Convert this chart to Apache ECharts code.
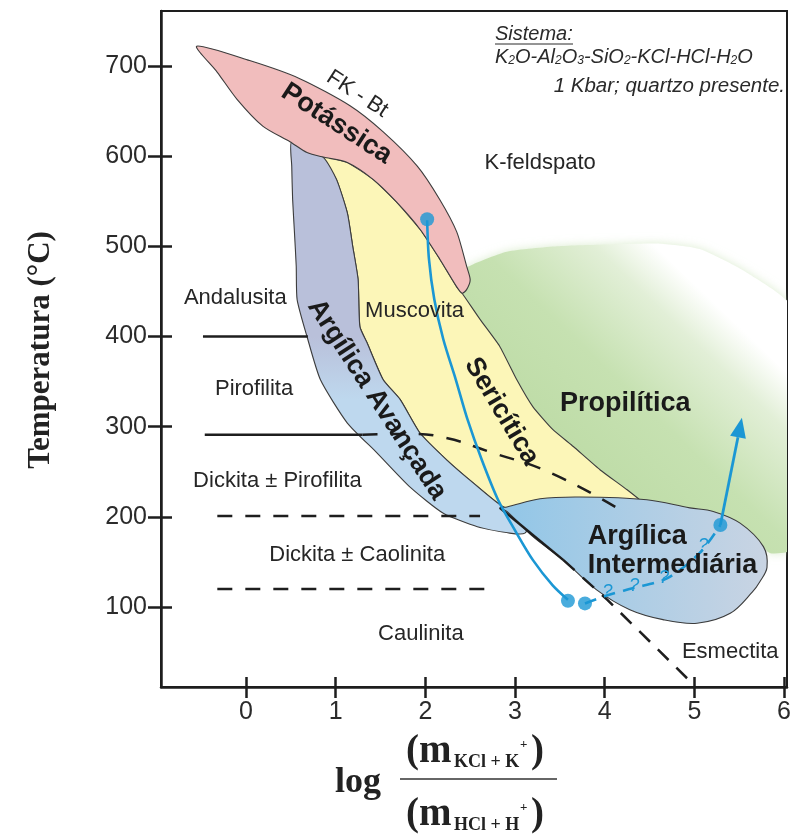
<!DOCTYPE html>
<html><head><meta charset="utf-8">
<script src="https://cdn.jsdelivr.net/npm/echarts@6/dist/echarts.min.js"></script>
<style>html,body{margin:0;padding:0;background:#fff}#c{width:794px;height:840px}</style>
</head><body><div id="c"></div>
<script>
// ---- axis ticks ----
const xTickValues = [0, 1, 2, 3, 4, 5, 6];
const yTickValues = [100, 200, 300, 400, 500, 600, 700];

// ---- alteration fields (log ratio, °C) ----
const propilitica = [[2.35,470],[2.53,480],[2.91,494],[3.47,500],[4.03,502],[4.62,503],[5.06,497],[5.60,470],[6.10,430],[6.10,165],[5.84,160],[5.59,186],[4.43,215],[4.25,230],[3.95,252],[3.65,278],[3.42,297],[3.20,322],[3.02,352],[2.83,389],[2.61,419],[2.41,448]];
const sericitica = [[0.86,599],[1.13,593],[1.42,574],[1.68,549],[1.94,519],[2.16,486],[2.35,455],[2.41,448],[2.61,419],[2.83,389],[3.02,352],[3.20,322],[3.42,297],[3.65,278],[3.95,252],[4.25,230],[4.43,215],[4.45,205],[3.20,205],[2.87,211],[2.53,238],[2.24,263],[1.94,293],[1.72,330],[1.53,352],[1.35,393],[1.27,411],[1.25,463],[1.19,500],[1.13,537],[1.01,574]];
const argilicaAvancada = [[0.51,616],[0.86,599],[1.01,574],[1.13,537],[1.19,500],[1.25,463],[1.27,411],[1.35,393],[1.53,352],[1.72,330],[1.94,293],[2.24,263],[2.53,238],[2.87,211],[3.20,200],[3.11,182],[2.94,182],[2.58,189],[2.20,204],[1.83,233],[1.46,271],[1.13,304],[0.83,352],[0.68,400],[0.57,441],[0.56,478],[0.54,516],[0.52,552],[0.51,589]];
const potassica = [[-0.55,722],[0.04,706],[0.60,686],[1.16,656],[1.53,627],[1.91,589],[2.16,552],[2.35,516],[2.46,478],[2.50,463],[2.46,452],[2.41,448],[2.35,455],[2.16,486],[1.94,519],[1.68,549],[1.42,574],[1.13,593],[0.86,599],[0.68,604],[0.49,616],[0.19,633],[-0.10,663],[-0.32,693]];
const argilicaIntermediaria = [[2.91,211],[3.28,220],[3.72,222],[4.47,219],[4.95,210],[5.21,206],[5.51,193],[5.77,167],[5.81,144],[5.73,128],[5.65,117],[5.40,93],[5.03,82],[4.65,86],[4.28,97],[3.91,119],[3.54,152],[3.20,178],[2.91,206],[2.83,210]];

// ---- mineral boundaries ----
const line400 = [[-0.48,400],[0.69,400]];
const line290 = [[-0.46,291],[1.30,291]];
const dash290 = [[1.30,291],[1.86,292],[2.16,289],[2.75,271],[3.39,249],[4.17,208]];
const dash200 = [[-0.32,201],[2.61,201]];
const dash120 = [[-0.32,120],[2.72,120]];
const diagSolid = [[2.83,210],[3.54,152]];
const diagDash = [[3.54,152],[4.03,108],[4.98,15]];

// ---- evolution path ----
const pathMain = [[2.02,529],[2.04,486],[2.10,441],[2.20,397],[2.34,352],[2.47,308],[2.63,263],[2.81,219],[3.00,185],[3.20,152],[3.42,124],[3.59,108]];
const pathDots = [[2.02,530],[3.59,107],[3.78,104],[5.29,191]];
const pathDashed = [[3.78,104],[4.03,113],[4.32,121],[4.70,132],[5.06,160],[5.29,191]];
const pathArrow = [[5.29,191],[5.53,310]];
const questionMarks = [[4.03,117],[4.33,123],[4.66,132],[5.10,168]];

// ---- labels (anchor in data units) ----
const regionLabels = [
  {t:'FK - Bt', x:1.24, y:669, r:-33, k:'n'},
  {t:'Potássica', x:1.01, y:636, r:-33, k:'b'},
  {t:'K-feldspato', x:3.28, y:592, r:0, k:'n'},
  {t:'Andalusita', x:-0.12, y:443, r:0, k:'n'},
  {t:'Muscovita', x:1.88, y:428, r:0, k:'n'},
  {t:'Argílica Avançada', x:1.46, y:330, r:-57, k:'b'},
  {t:'Sericítica', x:2.85, y:317, r:-59, k:'b'},
  {t:'Pirofilita', x:0.09, y:342, r:0, k:'n'},
  {t:'Propilítica', x:4.23, y:326, r:0, k:'b'},
  {t:'Dickita ± Pirofilita', x:0.35, y:240, r:0, k:'n'},
  {t:'Dickita ± Caolinita', x:1.24, y:158, r:0, k:'n'},
  {t:'Argílica', x:3.81, y:178, r:0, k:'bl'},
  {t:'Intermediária', x:3.81, y:146, r:0, k:'bl'},
  {t:'Caulinita', x:1.95, y:70, r:0, k:'n'},
  {t:'Esmectita', x:5.40, y:50, r:0, k:'n'}
];

const X_MIN = -0.948, X_MAX = 6.033, Y_MIN = 11.3, Y_MAX = 761;
const SANS = '"Liberation Sans", Arial, sans-serif';
const SERIF = '"Liberation Serif", "Times New Roman", serif';
const BLUE = '#1b97d4';
const INK = '#1e1e1e';

function polySeries(pts, fillFn, stroke, smooth, extra) {
  return {
    type: 'custom', coordinateSystem: 'cartesian2d', silent: true, animation: false, clip: true,
    data: pts, encode: {x: 0, y: 1},
    renderItem: function (params, api) {
      if (params.dataIndex !== 0) return;
      const points = pts.map(p => api.coord(p));
      const style = Object.assign({fill: fillFn(api), stroke: stroke, lineWidth: stroke === 'none' ? 0 : 1.1}, extra || {});
      return {type: 'polygon', shape: {points: points, smooth: smooth}, style: style};
    }
  };
}
function lineSeries(pts, color, width, type, smooth) {
  return {type: 'line', data: pts, showSymbol: false, symbol: 'none', silent: true, animation: false,
    smooth: smooth || false, lineStyle: {color: color, width: width, type: type}, z: 3};
}

const series = [
  polySeries(propilitica, api => {
    const a = api.coord([3.2, 200]), b = api.coord([5.9, 480]);
    return new echarts.graphic.LinearGradient(a[0], a[1], b[0], b[1], [
      {offset: 0, color: '#b8d89f'}, {offset: 0.45, color: '#c6e1b1'},
      {offset: 0.68, color: '#e2efd7'}, {offset: 0.8, color: '#ffffff'}, {offset: 1, color: '#ffffff'}], true);
  }, 'none', 0.2, {shadowBlur: 10, shadowColor: 'rgba(196,224,176,0.6)'}),
  polySeries(sericitica, () => '#fcf6b8', '#3c3c3c', 0.15),
  polySeries(argilicaAvancada, api => {
    const a = api.coord([1, 400]), b = api.coord([1, 330]);
    return new echarts.graphic.LinearGradient(a[0], a[1], b[0], b[1], [
      {offset: 0, color: '#b9c0da'}, {offset: 1, color: '#bed8ee'}], true);
  }, '#3c3c3c', 0.2),
  polySeries(potassica, () => '#f1bdbd', '#3c3c3c', 0.25),
  polySeries(argilicaIntermediaria, api => {
    const a = api.coord([3.0, 150]), b = api.coord([5.8, 150]);
    return new echarts.graphic.LinearGradient(a[0], a[1], b[0], b[1], [
      {offset: 0, color: '#94c7e7'}, {offset: 1, color: '#c9d4e3'}], true);
  }, '#3c3c3c', 0.35),
  lineSeries(line400, INK, 2.5, 'solid'),
  lineSeries(line290, INK, 2.5, 'solid'),
  lineSeries(dash290, INK, 2.5, [15, 13], true),
  lineSeries(dash200, INK, 2.5, [15, 13]),
  lineSeries(dash120, INK, 2.5, [15, 13]),
  lineSeries(diagSolid, INK, 2.5, 'solid'),
  lineSeries(diagDash, INK, 2.5, [15, 11]),
  {
    type: 'custom', coordinateSystem: 'cartesian2d', silent: true, animation: false, z: 4,
    data: regionLabels.map(l => [l.x, l.y]), encode: {x: 0, y: 1},
    renderItem: function (params, api) {
      const l = regionLabels[params.dataIndex];
      const p = api.coord([l.x, l.y]);
      const bold = l.k !== 'n';
      return {type: 'text', x: p[0], y: p[1], rotation: l.r * Math.PI / 180,
        style: {text: l.t, fill: bold ? '#1a1a1a' : '#262626',
          font: (bold ? 'bold 27px ' : '22px ') + SANS,
          align: l.k === 'bl' ? 'left' : 'center', verticalAlign: 'middle'}};
    }
  },
  lineSeries(pathMain, BLUE, 2.6, 'solid', 0.3),
  lineSeries(pathDashed, BLUE, 2.6, [12, 8], 0.3),
  {
    type: 'custom', coordinateSystem: 'cartesian2d', silent: true, animation: false, z: 5,
    data: pathArrow, encode: {x: 0, y: 1},
    renderItem: function (params, api) {
      if (params.dataIndex !== 0) return;
      const a = api.coord(pathArrow[0]), b = api.coord(pathArrow[1]);
      const dx = b[0] - a[0], dy = b[1] - a[1], L = Math.hypot(dx, dy);
      const ux = dx / L, uy = dy / L, hl = 20, hw = 8;
      const base = [b[0] - ux * hl, b[1] - uy * hl];
      return {type: 'group', children: [
        {type: 'line', shape: {x1: a[0], y1: a[1], x2: base[0], y2: base[1]}, style: {stroke: BLUE, lineWidth: 2.8}},
        {type: 'polygon', shape: {points: [b, [base[0] - uy * hw, base[1] + ux * hw], [base[0] + uy * hw, base[1] - ux * hw]]}, style: {fill: BLUE}}
      ]};
    }
  },
  {type: 'scatter', data: pathDots, symbol: 'circle', symbolSize: 14, itemStyle: {color: BLUE}, silent: true, animation: false, z: 6},
  {
    type: 'custom', coordinateSystem: 'cartesian2d', silent: true, animation: false, z: 6,
    data: questionMarks, encode: {x: 0, y: 1},
    renderItem: function (params, api) {
      const p = api.coord(questionMarks[params.dataIndex]);
      return {type: 'text', x: p[0], y: p[1], style: {text: '?', fill: BLUE,
        font: 'italic 18px ' + SANS, align: 'center', verticalAlign: 'middle'}};
    }
  }
];

const axisCommon = {type: 'value', splitLine: {show: false}};
const option = {
  animation: false,
  grid: {left: 161, top: 11, right: 7, bottom: 153, show: true, borderColor: INK, borderWidth: 2, backgroundColor: 'transparent', containLabel: false},
  xAxis: [
    Object.assign({}, axisCommon, {min: X_MIN, max: X_MAX, position: 'bottom',
      axisLine: {show: true, onZero: false, lineStyle: {color: INK, width: 2.5}},
      axisTick: {show: true, customValues: xTickValues, length: 11, lineStyle: {color: INK, width: 2.5}},
      axisLabel: {show: true, customValues: xTickValues, fontSize: 25, fontFamily: SANS, color: '#2b2b2b', margin: 13}}),
    Object.assign({}, axisCommon, {min: X_MIN, max: X_MAX, position: 'bottom',
      axisLine: {show: false, onZero: false},
      axisTick: {show: true, inside: true, customValues: xTickValues, length: 10, lineStyle: {color: INK, width: 2.5}},
      axisLabel: {show: false, customValues: xTickValues}})
  ],
  yAxis: [
    Object.assign({}, axisCommon, {min: Y_MIN, max: Y_MAX, position: 'left',
      axisLine: {show: true, onZero: false, lineStyle: {color: INK, width: 2.5}},
      axisTick: {show: true, customValues: yTickValues, length: 13, lineStyle: {color: INK, width: 2.5}},
      axisLabel: {show: true, customValues: yTickValues, fontSize: 25, fontFamily: SANS, color: '#2b2b2b', margin: 14}}),
    Object.assign({}, axisCommon, {min: Y_MIN, max: Y_MAX, position: 'left',
      axisLine: {show: false, onZero: false},
      axisTick: {show: true, inside: true, customValues: yTickValues, length: 11, lineStyle: {color: INK, width: 2.5}},
      axisLabel: {show: false, customValues: yTickValues}})
  ],
  graphic: [
    {type: 'text', x: 41, y: 350, rotation: Math.PI / 2, style: {text: 'Temperatura (°C)', font: 'bold 31px ' + SERIF, fill: '#222', align: 'center', verticalAlign: 'middle'}},
    {type: 'text', x: 358, y: 783, style: {text: 'log', font: 'bold 36px ' + SERIF, fill: '#222', align: 'center', verticalAlign: 'middle'}},
    {type: 'text', x: 406, y: 752, style: {text: '(m', font: 'bold 39px ' + SERIF, fill: '#222', align: 'left', verticalAlign: 'middle'}},
    {type: 'text', x: 454, y: 762, style: {text: 'KCl + K', font: 'bold 18px ' + SERIF, fill: '#222', align: 'left', verticalAlign: 'middle'}},
    {type: 'text', x: 520, y: 745, style: {text: '+', font: 'bold 13px ' + SERIF, fill: '#222', align: 'left', verticalAlign: 'middle'}},
    {type: 'text', x: 531, y: 752, style: {text: ')', font: 'bold 39px ' + SERIF, fill: '#222', align: 'left', verticalAlign: 'middle'}},
    {type: 'line', shape: {x1: 400, y1: 779, x2: 557, y2: 779}, style: {stroke: '#333', lineWidth: 1.5}},
    {type: 'text', x: 406, y: 815, style: {text: '(m', font: 'bold 39px ' + SERIF, fill: '#222', align: 'left', verticalAlign: 'middle'}},
    {type: 'text', x: 454, y: 825, style: {text: 'HCl + H', font: 'bold 18px ' + SERIF, fill: '#222', align: 'left', verticalAlign: 'middle'}},
    {type: 'text', x: 520, y: 808, style: {text: '+', font: 'bold 13px ' + SERIF, fill: '#222', align: 'left', verticalAlign: 'middle'}},
    {type: 'text', x: 531, y: 815, style: {text: ')', font: 'bold 39px ' + SERIF, fill: '#222', align: 'left', verticalAlign: 'middle'}},
    {type: 'text', x: 495, y: 34, style: {text: 'Sistema:', font: 'italic 20px ' + SANS, fill: '#2a2a2a', align: 'left', verticalAlign: 'middle'}},
    {type: 'line', shape: {x1: 495, y1: 44, x2: 573, y2: 44}, style: {stroke: '#2a2a2a', lineWidth: 1}},
    {type: 'text', x: 495, y: 57, style: {
      text: '{n|K}{s|2}{n|O-Al}{s|2}{n|O}{s|3}{n|-SiO}{s|2}{n|-KCl-HCl-H}{s|2}{n|O}',
      rich: {n: {font: 'italic 20px ' + SANS, fill: '#2a2a2a', color: '#2a2a2a'}, s: {font: 'italic 12px ' + SANS, fill: '#2a2a2a', color: '#2a2a2a', padding: [8, 0, 0, 0]}},
      align: 'left', verticalAlign: 'middle'}},
    {type: 'text', x: 785, y: 86, style: {text: '1 Kbar; quartzo presente.', font: 'italic 20.5px ' + SANS, fill: '#2a2a2a', align: 'right', verticalAlign: 'middle'}}
  ],
  series: series
};
const chart = echarts.init(document.getElementById('c'), null, {width: 794, height: 840});
chart.setOption(option);
</script>
</body></html>
